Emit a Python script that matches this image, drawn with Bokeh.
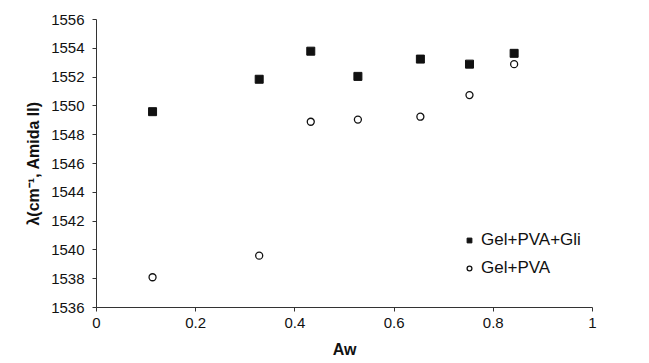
from bokeh.plotting import figure
from bokeh.models import Range1d, FixedTicker, Legend, LegendItem, CustomJSTickFormatter
from bokeh.embed import file_html
from bokeh.resources import INLINE

aw = [0.113, 0.328, 0.432, 0.527, 0.653, 0.752, 0.842]
gel_pva_gli = [1549.6, 1551.85, 1553.8, 1552.05, 1553.25, 1552.9, 1553.65]
gel_pva = [1538.1, 1539.6, 1548.9, 1549.05, 1549.25, 1550.75, 1552.9]
x_ticks = [0, 0.2, 0.4, 0.6, 0.8, 1.0]
y_ticks = [1536, 1538, 1540, 1542, 1544, 1546, 1548, 1550, 1552, 1554, 1556]

FONT = "Liberation Sans"

p = figure(width=649, height=363, output_backend="svg", toolbar_location=None,
           x_range=Range1d(0, 1), y_range=Range1d(1536, 1556),
           min_border_left=96, min_border_right=57, min_border_top=19, min_border_bottom=56)
p.outline_line_color = None
p.xgrid.grid_line_color = None
p.ygrid.grid_line_color = None

r1 = p.scatter(aw, gel_pva_gli, marker="square", size=8, fill_color="#111111", line_color="#111111")
r2 = p.scatter(aw, gel_pva, marker="circle", size=7, fill_color="white", line_color="#111111", line_width=1.3)

for ax in (p.xaxis[0], p.yaxis[0]):
    ax.axis_line_color = "#333333"
    ax.major_tick_line_color = "#333333"
    ax.major_tick_in = 0
    ax.major_tick_out = 4
    ax.minor_tick_line_color = None
    ax.major_label_text_font = FONT
    ax.major_label_text_font_size = "15px"
    ax.major_label_text_color = "#111111"
    ax.axis_label_text_font = FONT
    ax.axis_label_text_font_size = "16px"
    ax.axis_label_text_font_style = "bold"
    ax.axis_label_text_color = "#111111"

p.xaxis.ticker = FixedTicker(ticks=x_ticks)
p.yaxis.ticker = FixedTicker(ticks=y_ticks)
p.xaxis.formatter = CustomJSTickFormatter(code="return String(Math.round(tick*10)/10);")
p.xaxis.axis_label = "Aw"
p.yaxis.axis_label = "λ(cm⁻¹, Amida II)"
p.xaxis.major_label_standoff = 6
p.xaxis.axis_label_standoff = 10
p.yaxis.major_label_standoff = 8
p.yaxis.axis_label_standoff = 6

legend = Legend(items=[LegendItem(label="Gel+PVA+Gli", renderers=[r1]),
                       LegendItem(label="Gel+PVA", renderers=[r2])],
                location=(367, 29))
legend.border_line_color = None
legend.background_fill_alpha = 0
legend.padding = 0
legend.margin = 0
legend.spacing = 8
legend.glyph_width = 12
legend.glyph_height = 20
legend.label_height = 20
legend.label_standoff = 6
legend.label_text_font = FONT
legend.label_text_font_size = "17px"
legend.label_text_color = "#111111"
p.add_layout(legend)

open("out.html", "w").write(file_html(p, INLINE))
